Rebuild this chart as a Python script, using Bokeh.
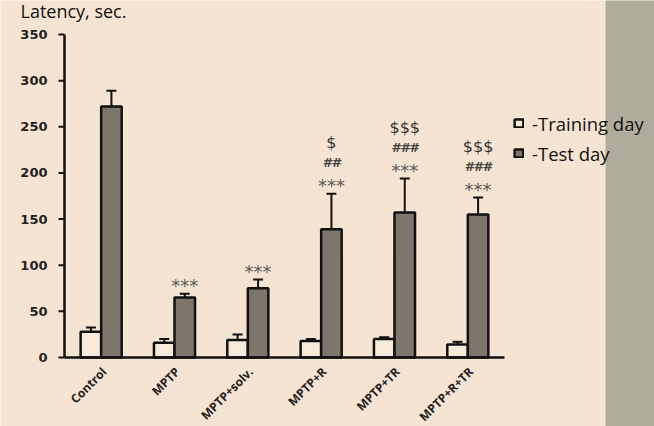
from bokeh.plotting import figure
from bokeh.models import (ColumnDataSource, Range1d, Whisker, Label,
                          Legend, LegendItem, BoxAnnotation, TeeHead)
from bokeh.transform import dodge
from bokeh.core.properties import value
from bokeh.embed import file_html
from bokeh.resources import INLINE
import math

categories = ["Control", "MPTP", "MPTP+solv.", "MPTP+R", "MPTP+TR", "MPTP+R+TR"]
training_mean = [28, 16, 19, 18, 20, 14]
training_err = [4.5, 4, 6, 2, 2, 3]
test_mean = [272, 65, 75, 139, 157, 155]
test_err = [17, 4, 9.5, 38.5, 37, 18.5]
stars = ["", "***", "***", "***", "***", "***"]
hashes = ["", "", "", "##", "###", "###"]
dollars = ["", "", "", "$", "$$$", "$$$"]
y_ticks = [0, 50, 100, 150, 200, 250, 300, 350]

BG = "#F5E4D1"
BAND = "#AFAC9C"
DARK = "#7E766B"
INK = "#111111"

W, H = 654, 426
# layout of the plotting area inside the canvas (pixels)
AX_LEFT, AX_BOTTOM, AX_TOP = 64, 357, 34
CAT_PX = 73.33
y_px = (AX_BOTTOM - AX_TOP) / max(y_ticks)
x_lo = -AX_LEFT / CAT_PX - 0.5
x_hi = (W - AX_LEFT) / CAT_PX - 0.5
y_lo = -(H - AX_BOTTOM) / y_px
y_hi = AX_BOTTOM / y_px

xi = list(range(len(categories)))
src = ColumnDataSource(dict(
    xi=xi, cat=categories,
    tr=training_mean,
    tr_up=[m + e for m, e in zip(training_mean, training_err)],
    tr_lo=[m - e for m, e in zip(training_mean, training_err)],
    te=test_mean,
    te_up=[m + e for m, e in zip(test_mean, test_err)],
    te_lo=[m - e for m, e in zip(test_mean, test_err)],
    stars=stars, hashes=hashes, dollars=dollars,
))

p = figure(x_range=Range1d(x_lo, x_hi), y_range=Range1d(y_lo, y_hi),
           width=W, height=H, min_border=0,
           x_axis_type=None, y_axis_type=None,
           output_backend="svg", toolbar_location=None,
           background_fill_color=BG, border_fill_color=BG, outline_line_color=None)
p.xgrid.visible = False
p.ygrid.visible = False

# right-hand band
p.add_layout(BoxAnnotation(left=605, right=W + 10, bottom=-10, top=H + 10,
                           left_units="screen", right_units="screen",
                           bottom_units="screen", top_units="screen",
                           fill_color=BAND, fill_alpha=1, line_color=None, level="underlay"))

off = 0.14
bw = 0.28
r_tr = p.vbar(x=dodge("xi", -off), top="tr", width=bw, bottom=0, source=src,
              fill_color="#F8EADB", line_color=INK, line_width=2.5)
r_te = p.vbar(x=dodge("xi", off), top="te", width=bw, bottom=0, source=src,
              fill_color=DARK, line_color=INK, line_width=2.5)

for base, up, lo in [(dodge("xi", -off), "tr_up", "tr_lo"),
                     (dodge("xi", off), "te_up", "te_lo")]:
    p.add_layout(Whisker(source=src, base=base, upper=up, lower=lo, line_color=INK, line_width=2,
                         upper_head=TeeHead(size=10, line_width=2, line_color=INK),
                         lower_head=TeeHead(size=10, line_width=2, line_color=INK)))

# axes (drawn through the data scales)
x_left = -0.5
x_right = len(categories) - 0.5
p.segment(x0=[x_left], y0=[0], x1=[x_right], y1=[0], line_color=INK, line_width=2.5)
p.segment(x0=[x_left], y0=[0], x1=[x_left], y1=[max(y_ticks)], line_color=INK, line_width=2.5)
p.ray(x=[x_left] * len(y_ticks), y=y_ticks, length=6, length_units="screen", angle=math.pi,
      line_color=INK, line_width=2)
p.text(x=[x_left] * len(y_ticks), y=y_ticks, text=[str(t) for t in y_ticks], x_offset=-17,
       text_align="right", text_baseline="middle", text_font=value("DejaVu Sans"),
       text_font_style="bold", text_font_size="13px", text_color="#222222")
# slanted category labels (full turns added: a small plain angle was drawn unrotated in SVG)
p.text(x="xi", y=0, text="cat", source=src, angle=math.radians(45) + 14 * math.pi,
       x_offset=3, y_offset=12,
       text_align="right", text_baseline="middle", text_font=value("Open Sans"),
       text_font_style="bold", text_font_size="12px", text_color="#222222")

# significance marks
xs = dodge("xi", off)
p.text(x=xs, y="te_up", text="stars", source=src, y_offset=-8, text_align="center",
       text_baseline="middle", text_font=value("DejaVu Sans"), text_font_size="18px",
       text_color="#5A5A5A")
p.text(x=xs, y="te_up", text="hashes", source=src, y_offset=-31, text_align="center",
       text_baseline="middle", text_font=value("DejaVu Sans"), text_font_size="13px",
       text_font_style="bold italic", text_color="#444444")
p.text(x=xs, y="te_up", text="dollars", source=src, y_offset=-51, text_align="center",
       text_baseline="middle", text_font=value("DejaVu Sans"), text_font_size="16px",
       text_color="#333333")

p.add_layout(Label(x=20, y=H + 2, x_units="screen", y_units="screen", text="Latency, sec.",
                   text_font="Open Sans", text_font_size="18px", text_color=INK,
                   text_baseline="top"))

legend = Legend(items=[LegendItem(label="-Training day", renderers=[r_tr]),
                       LegendItem(label="-Test day", renderers=[r_te])],
                location=(513, H - 165.5), padding=0, margin=0, spacing=5,
                glyph_width=11, glyph_height=10, label_height=20, label_standoff=8,
                border_line_color=None, background_fill_alpha=0,
                label_text_font="Open Sans", label_text_font_size="18.5px",
                label_text_color=INK)
p.add_layout(legend)

open("out.html", "w").write(file_html(p, INLINE))
